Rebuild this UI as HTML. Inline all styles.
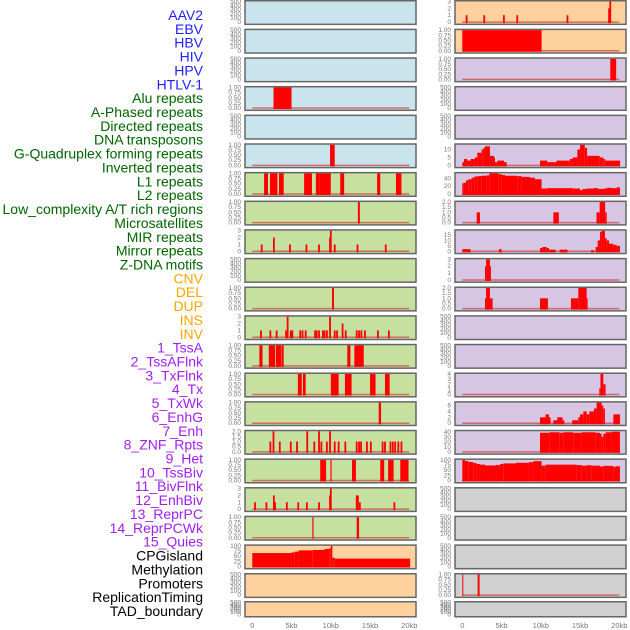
<!DOCTYPE html>
<html><head><meta charset="utf-8"><style>
html,body{margin:0;padding:0;background:#fff;}
svg{display:block;font-family:"Liberation Sans",sans-serif;}
</style></head><body>
<svg id="chart" width="630" height="630" viewBox="0 0 630 630"></svg>
<script>
// ---------- Track labels ----------
const labelNames = ["AAV2","EBV","HBV","HIV","HPV","HTLV-1",
"Alu repeats","A-Phased repeats","Directed repeats","DNA transposons","G-Quadruplex forming repeats","Inverted repeats","L1 repeats","L2 repeats","Low_complexity A/T rich regions","Microsatellites","MIR repeats","Mirror repeats","Z-DNA motifs",
"CNV","DEL","DUP","INS","INV",
"1_TssA","2_TssAFlnk","3_TxFlnk","4_Tx","5_TxWk","6_EnhG","7_Enh","8_ZNF_Rpts","9_Het","10_TssBiv","11_BivFlnk","12_EnhBiv","13_ReprPC","14_ReprPCWk","15_Quies",
"CPGisland","Methylation","Promoters","ReplicationTiming","TAD_boundary"];
const labelGroups = [6,13,5,15,5];
const groupColors = ["#1f1fff","#006400","#ffa500","#a020f0","#000000"];

// ---------- x axis ----------
const xTickValues = [0,5,10,15,20];
const xTickLabels = ["0","5kb","10kb","15kb","20kb"];

// ---------- data: segments [startKb, endKb, value], spikes [kb, value] ----------
const L3 = [[2.7,5.0,1]];
const L5 = [[9.9,10.5,1]];
const L6 = [[1.5,2.0,1],[2.25,3.2,1],[3.4,4.0,1],[6.6,7.6,1],[8.1,8.6,1],[8.6,10.0,1],[11.2,11.7,1],[15.9,16.3,1],[18.3,19.0,1]];
const L7 = [[13.45,13.7,1]];
const L8 = [[1.2,1],[2.75,2],[4.8,1],[6.9,1],[8.5,1],[9.9,2],[10.0,3],[10.5,1],[13.4,1],[17.0,1]];
const L10 = [[10.15,10.4,1]];
const L11 = [[1.1,1],[2.3,1],[3.1,1],[4.3,1],[4.5,3],[4.9,1],[5.1,1],[6.1,1],[6.4,1],[6.8,1],[8.0,1],[8.2,1],[8.5,1],[9.0,1],[9.2,1],[9.5,1],[9.9,3],[10.5,1],[10.8,1],[11.5,2],[11.9,1],[13.3,1],[13.6,1],[13.9,1],[14.35,1],[16.0,1],[17.4,1]];
const L12 = [[0.9,1.3,1],[2.1,2.9,1],[3.0,3.65,1],[3.7,4.0,1],[12.1,12.5,1],[13.0,14.2,1]];
const L13 = [[5.8,6.3,1],[6.45,6.8,1],[10.0,11.0,1],[11.8,12.65,1],[15.0,15.7,1],[16.9,17.5,1]];
const L14 = [[16.1,16.4,1]];
const L15 = [[2.3,1],[2.7,2],[3.5,1],[4.9,1],[5.7,1],[7.0,2],[7.9,1],[8.5,2],[8.8,1],[9.5,1],[9.9,2],[10.5,1],[11.0,1],[11.85,1],[13.3,1],[13.6,1],[13.85,1],[14.6,1],[15.1,1],[16.6,1],[16.9,1],[17.6,1],[17.9,1],[18.2,1],[18.6,1],[19.0,1]];
const L16 = [[8.65,9.4,1],[9.95,10.1,1],[12.7,13.2,1],[16.3,16.8,1],[17.3,18.0,1],[18.85,19.9,1]];
const L17 = [[0.35,1],[1.8,1],[2.75,2],[2.9,1],[4.4,1],[5.85,1],[6.95,1],[8.5,1],[9.9,2],[10.0,3],[13.3,2],[13.45,2],[13.7,1],[18.1,1]];
const L18 = [[7.65,7.8,1],[13.3,13.6,1]];
const L19 = [[0,5.0,65],[5.0,5.4,68],[5.4,5.9,72],[5.9,7.7,78],[7.7,9.2,80],[9.2,9.85,85],[9.85,10.0,90],[10.0,10.2,100],[10.2,10.5,42],[10.5,20.1,38]];

const R0 = [[0.55,1],[2.8,1],[5.3,1],[7.0,1],[13.4,1],[18.7,2],[18.85,3]];
const R1 = [[0,10.1,1]];
const R2 = [[18.85,19.6,1]];
const R5 = [[0,0.21,2],[0.21,0.64,4],[0.64,1.06,3],[1.06,1.61,4],[1.61,1.91,5],[1.91,2.46,8],[2.46,2.68,10],[2.68,2.89,11],[2.89,3.52,12],[3.52,4.03,6],[4.03,4.16,5],[4.16,4.46,2],[4.46,5.31,3],[5.31,5.65,2],[9.9,10.83,3],[10.83,12.0,2],[12.0,13.7,3],[13.7,14.05,4],[14.05,14.65,5],[14.65,15.0,10],[15.0,15.6,13],[15.6,15.9,11],[15.9,17.5,6],[17.5,17.96,5],[17.96,18.2,4],[18.2,20.1,3]];
const R6 = [[0,0.13,27],[0.13,0.47,29],[0.47,0.76,35],[0.76,1.19,38],[1.19,1.53,42],[1.53,1.95,45],[1.95,2.46,46],[2.46,3.1,47],[3.1,3.44,48],[3.44,4.59,53],[4.59,5.01,51],[5.01,5.44,49],[5.44,7.0,47],[7.0,7.56,46],[7.56,8.62,44],[8.62,9.26,42],[9.26,10.1,38],[10.1,10.75,14],[10.75,14.14,15],[14.14,14.99,14],[14.99,15.33,10],[15.33,15.84,13],[15.84,16.69,14],[16.69,17.32,15],[17.32,17.96,13],[17.96,18.39,14],[18.39,19.02,16],[19.02,19.66,15],[19.66,20.08,17]];
const R7 = [[1.83,2.25,1],[11.6,12.3,1],[17.1,17.5,1],[17.5,18.2,2],[18.2,18.4,1]];
const R8 = [[0,1.06,2],[4.67,5.0,2],[9.9,10.2,3],[10.2,10.75,4],[10.75,11.05,3],[11.05,11.9,1.5],[12.4,13.4,1.5],[16.4,16.8,1],[16.99,17.24,4],[17.24,17.54,10],[17.54,17.75,18],[17.75,18.17,19],[18.17,18.39,12],[18.39,18.69,10],[18.69,19.24,7],[19.24,19.66,6],[19.66,20.08,5]];
const R9 = [[2.89,3.03,2],[3.03,3.52,3],[3.52,3.6,2]];
const R10 = [[2.89,3.03,1],[3.03,3.52,2],[3.52,3.86,1],[9.9,10.9,1],[13.84,14.78,1],[14.78,15.84,2],[15.84,15.97,1]];
const R13 = [[17.45,17.6,1.2],[17.6,17.96,4],[17.96,18.25,2]];
const R14 = [[9.9,10.6,2],[10.6,11.04,3],[11.04,11.25,2],[11.59,12.1,1],[12.1,12.78,2],[12.78,12.99,1],[14.0,14.78,1],[14.78,14.99,2],[14.99,15.42,3],[15.42,15.84,4],[15.84,16.18,3],[16.18,16.77,4],[16.77,17.11,5],[17.11,17.75,7],[17.75,17.96,6],[17.96,18.17,5],[19.24,20.08,3]];
const R15 = [[9.9,11.08,38],[11.08,12.36,39],[12.36,12.87,38],[12.87,14.14,39],[14.14,15.2,38],[15.2,16.99,39],[16.99,17.54,38],[17.54,17.75,36],[17.75,17.96,30],[17.96,18.26,36],[18.26,19.02,39],[19.02,20.08,40]];
const R16 = [[0,0.34,100],[0.34,0.76,95],[0.76,1.4,90],[1.4,1.83,85],[1.83,2.25,80],[2.25,2.89,77],[2.89,4.29,73],[4.29,4.8,75],[4.8,5.22,80],[5.22,6.84,83],[6.84,8.49,86],[8.49,9.05,89],[9.05,10.1,94],[10.1,10.62,72],[10.62,14.57,77],[14.57,15.2,75],[15.2,15.84,72],[15.84,16.48,74],[16.48,17.54,72],[17.54,17.96,68],[17.96,19.24,71],[19.24,19.58,67],[19.58,20.08,69]];
const R20 = [[0,0.12,1],[1.95,2.2,1]];

// ---------- tick sets ----------
const tEmpty = ["0","100","200","300","400","500"];
const tEmptyV = [0,100,200,300,400,500];
const t01 = ["0.00","0.25","0.50","0.75","1.00"];
const t01V = [0,0.25,0.5,0.75,1];
const t3 = ["0","1","2","3"]; const t3V = [0,1,2,3];
const t2 = ["0.0","0.5","1.0","1.5","2.0"]; const t2V = [0,0.5,1,1.5,2];
const t100 = ["0","25","50","75","100"]; const t100V = [0,25,50,75,100];

const BLUE="#c9e4ec", GREEN="#c6e0a0", PEACH="#ffd19f", LAV="#d6c5e3", GREY="#d0d0d0";

// panels: [col,row,bg,max,tickVals,tickLabels,segs,spikes]
const panels = [
 [0,0,BLUE,500,tEmptyV,tEmpty,null,null],[0,1,BLUE,500,tEmptyV,tEmpty,null,null],[0,2,BLUE,500,tEmptyV,tEmpty,null,null],
 [0,3,BLUE,1,t01V,t01,L3,null],[0,4,BLUE,500,tEmptyV,tEmpty,null,null],[0,5,BLUE,1,t01V,t01,L5,null],
 [0,6,GREEN,1,t01V,t01,L6,null],[0,7,GREEN,1,t01V,t01,L7,null],[0,8,GREEN,3,t3V,t3,null,L8],
 [0,9,GREEN,500,tEmptyV,tEmpty,null,null],[0,10,GREEN,1,t01V,t01,L10,null],[0,11,GREEN,3,t3V,t3,null,L11],
 [0,12,GREEN,1,t01V,t01,L12,null],[0,13,GREEN,1,t01V,t01,L13,null],[0,14,GREEN,1,t01V,t01,L14,null],
 [0,15,GREEN,2,t2V,t2,null,L15],[0,16,GREEN,1,t01V,t01,L16,null],[0,17,GREEN,3,t3V,t3,null,L17],
 [0,18,GREEN,1,t01V,t01,L18,null],[0,19,PEACH,100,t100V,t100,L19,null],[0,20,PEACH,500,tEmptyV,tEmpty,null,null],
 [0,21,PEACH,500,tEmptyV,tEmpty,null,null],
 [1,0,PEACH,3,t3V,t3,null,R0],[1,1,PEACH,1,t01V,t01,R1,null],[1,2,LAV,1,t01V,t01,R2,null],
 [1,3,LAV,500,tEmptyV,tEmpty,null,null],[1,4,LAV,500,tEmptyV,tEmpty,null,null],
 [1,5,LAV,13,[0,5,10],["0","5","10"],R5,null],[1,6,LAV,53,[0,20,40],["0","20","40"],R6,null],
 [1,7,LAV,2,t2V,t2,R7,null],[1,8,LAV,19,[0,5,10,15],["0","5","10","15"],R8,null],
 [1,9,LAV,3,t3V,t3,R9,null],[1,10,LAV,2,t2V,t2,R10,null],
 [1,11,LAV,500,tEmptyV,tEmpty,null,null],[1,12,LAV,500,tEmptyV,tEmpty,null,null],
 [1,13,LAV,4,[0,1,2,3,4],["0","1","2","3","4"],R13,null],[1,14,LAV,7,[0,2,4,6],["0","2","4","6"],R14,null],
 [1,15,LAV,41,[0,10,20,30,40],["0","10","20","30","40"],R15,null],[1,16,LAV,100,t100V,t100,R16,null],
 [1,17,GREY,500,tEmptyV,tEmpty,null,null],[1,18,GREY,500,tEmptyV,tEmpty,null,null],[1,19,GREY,500,tEmptyV,tEmpty,null,null],
 [1,20,GREY,1,t01V,t01,R20,null],[1,21,GREY,500,tEmptyV,tEmpty,null,null]
];

const NS="http://www.w3.org/2000/svg";
const svg=document.getElementById("chart");
function mk(tag,attrs,parent){const e=document.createElementNS(NS,tag);for(const k in attrs)e.setAttribute(k,attrs[k]);(parent||svg).appendChild(e);return e;}

// labels
let gi=0,cnt=0;
labelNames.forEach((n,i)=>{
  while(cnt>=labelGroups[gi]){gi++;cnt=0;}
  cnt++;
  const t=mk("text",{x:203,y:20+i*13.86,"text-anchor":"end","font-size":"14",fill:groupColors[gi]});
  
  
  t.textContent=n;
});

const colX=[245,455], colW=171, kb0=[252.3,462.3], kbPx=7.85;
function xScale(col,kb){return kb0[col]+kb*kbPx;}
function rowTop(r){return r===21?601:r*28.65;}
function rowH(r){return r===21?16:24.6;}

panels.forEach(p=>{
  const [col,row,bg,max,tv,tl,segs,spikes]=p;
  const top=rowTop(row),h=rowH(row),x0=colX[col];
  const g=mk("g",{});
  
  
  const r=mk("rect",{x:x0,y:top+0.75,width:colW,height:h-1,fill:bg,stroke:"#666",'stroke-width':1.5},g);
  
  
  const yb=top+h-2.5, yt=top+1.5;
  const ys=v=>yb-(v/max)*(yb-yt);
  tv.forEach((v,i)=>{
    const t=mk("text",{x:x0-4,y:ys(v)+2,"text-anchor":"end","font-size":"6.5",fill:"#777"},g);
    
    
    t.textContent=tl[i];
  });
  if(segs||spikes){
    const bl=mk("line",{x1:xScale(col,0),x2:xScale(col,20),y1:yb,y2:yb,stroke:"#d05050","stroke-width":1.5,opacity:0.8},g);
    
    
  }
  (segs||[]).forEach(s=>{
    const b=mk("rect",{x:xScale(col,s[0]),y:ys(s[2]),width:Math.max(1,xScale(col,s[1])-xScale(col,s[0])),height:yb-ys(s[2])+1,fill:"#ff0000"},g);
    
    
  });
  (spikes||[]).forEach(s=>{
    const b=mk("rect",{x:xScale(col,s[0])-0.9,y:ys(s[1]),width:1.8,height:yb-ys(s[1])+1,fill:"#ff0000"},g);
    
    
  });
});

[0,1].forEach(col=>{
  xTickValues.forEach((v,i)=>{
    const t=mk("text",{x:xScale(col,v),y:628,"text-anchor":"middle","font-size":"7.5",fill:"#777"});
    
    
    t.textContent=xTickLabels[i];
  });
});
</script>
</body></html>
